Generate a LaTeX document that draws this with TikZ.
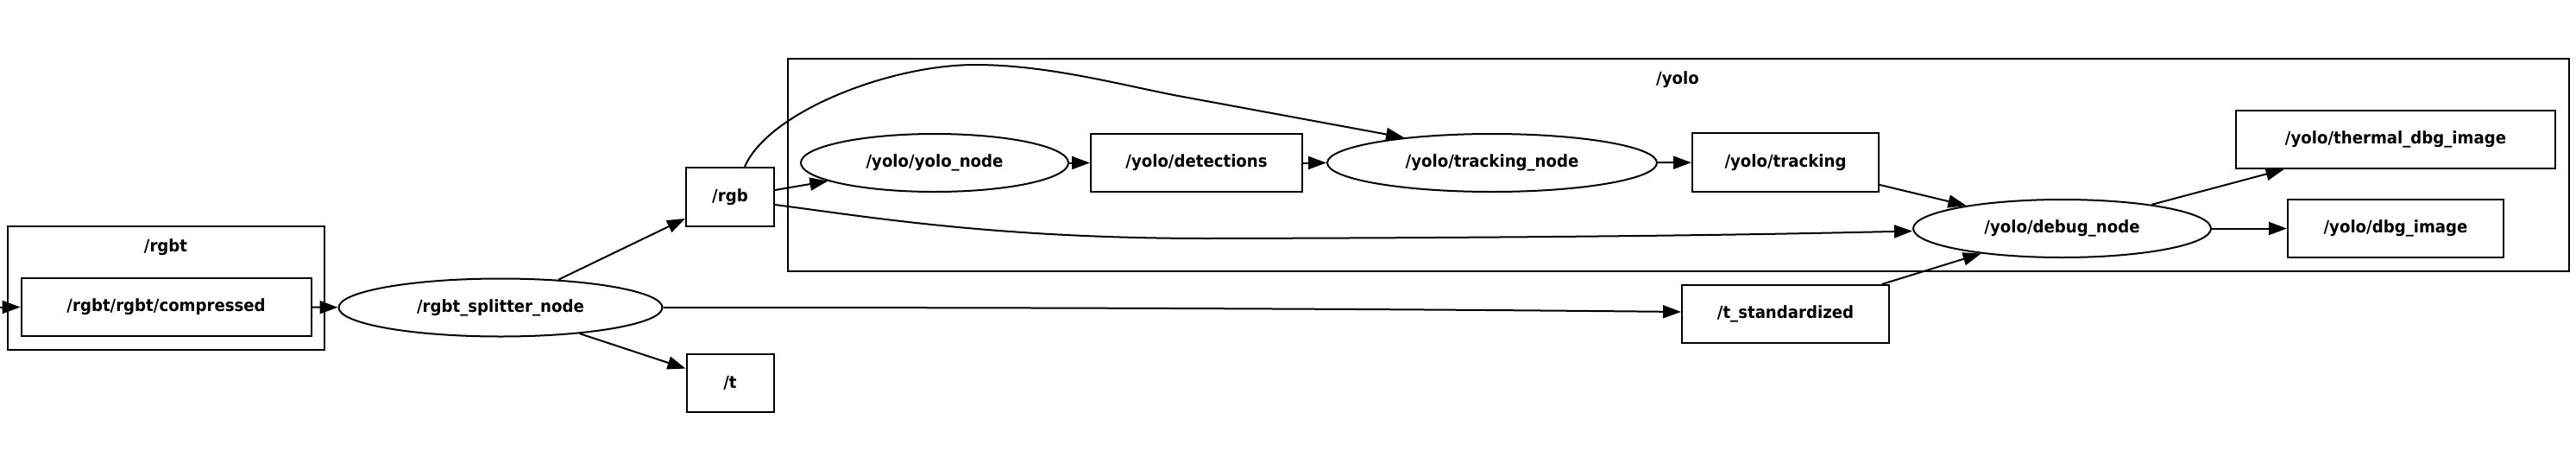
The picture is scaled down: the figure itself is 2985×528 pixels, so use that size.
\documentclass[tikz,border=0pt]{standalone}
\usepackage{fontspec}
\setmainfont{DejaVu Sans}[FakeStretch=0.93]
\usetikzlibrary{arrows.meta,shapes.geometric}
\begin{document}
\begin{tikzpicture}[x=1pt,y=-1pt,
  every node/.style={font=\fontsize{19.5}{22}\selectfont\bfseries, inner sep=0pt},
  topic/.style={draw, line width=2pt, rectangle, minimum height=67pt},
  rosnode/.style={draw, line width=2pt, ellipse, minimum height=67pt},
  cluster/.style={draw, line width=2pt, rectangle},
  edge/.style={line width=2pt, -{Triangle[length=21pt,width=15pt]}}
]
\useasboundingbox (0,0) rectangle (2985,528);
% clusters
\node[cluster, minimum width=367pt, minimum height=143pt] (rgbtc) at (192.5,333.5) {};
\node (rgbtlbl) at (192,286) {/rgbt};
\node[cluster, minimum width=2064pt, minimum height=246pt] (yoloc) at (1945,190.5) {};
\node (yololbl) at (1944,92) {/yolo};
% nodes
\node[topic, minimum width=336pt] (comp) at (192.6,355.5) {/rgbt/rgbt/compressed};
\node[rosnode, minimum width=375pt] (split) at (580,356) {/rgbt\_splitter\_node};
\node[topic, minimum width=102pt, minimum height=68pt] (rgb) at (846,228) {/rgb};
\node[topic, minimum width=101pt] (t) at (846,443.5) {/t};
\node[rosnode, minimum width=310pt] (ynode) at (1083,188.5) {/yolo/yolo\_node};
\node[topic, minimum width=245pt] (det) at (1386.5,188.5) {/yolo/detections};
\node[rosnode, minimum width=382pt] (tnode) at (1729,188.5) {/yolo/tracking\_node};
\node[topic, minimum width=216pt, minimum height=68pt] (trk) at (2069,188) {/yolo/tracking};
\node[rosnode, minimum width=345pt] (dbg) at (2389.5,264.5) {/yolo/debug\_node};
\node[topic, minimum width=370pt] (therm) at (2776,161.5) {/yolo/thermal\_dbg\_image};
\node[topic, minimum width=250pt] (dimg) at (2776,264.5) {/yolo/dbg\_image};
\node[topic, minimum width=240pt] (tstd) at (2069,363.5) {/t\_standardized};
\coordinate (in) at (0,355.5);
% edges
\draw[edge] (in) -- (comp);
\draw[edge] (comp) -- (split);
\draw[edge] (split) -- (rgb);
\draw[edge] (split) -- (t);
\draw[edge] (split.east) .. controls (1300,356) and (1650,358) .. ([yshift=2.5pt]tstd.west);
\draw[edge] ([yshift=8pt]rgb.east) -- (ynode);
\draw[edge] ([xshift=17pt]rgb.north) .. controls (890,130) and (1030,75) .. (1130,75)
  .. controls (1210,75) and (1290,96) .. (1360,110) -- (tnode.164);
\draw[edge] ([yshift=-9pt]rgb.east) .. controls (1000,250) and (1150,276) .. (1400,276)
  .. controls (1900,275) and (2100,270) .. ([yshift=-3pt]dbg.west);
\draw[edge] (ynode) -- (det);
\draw[edge] (det) -- (tnode);
\draw[edge] (tnode) -- (trk);
\draw[edge] (trk) -- (dbg);
\draw[edge] (tstd) -- (dbg);
\draw[edge] (dbg) -- (therm);
\draw[edge] (dbg) -- (dimg);
\end{tikzpicture}
\end{document}
